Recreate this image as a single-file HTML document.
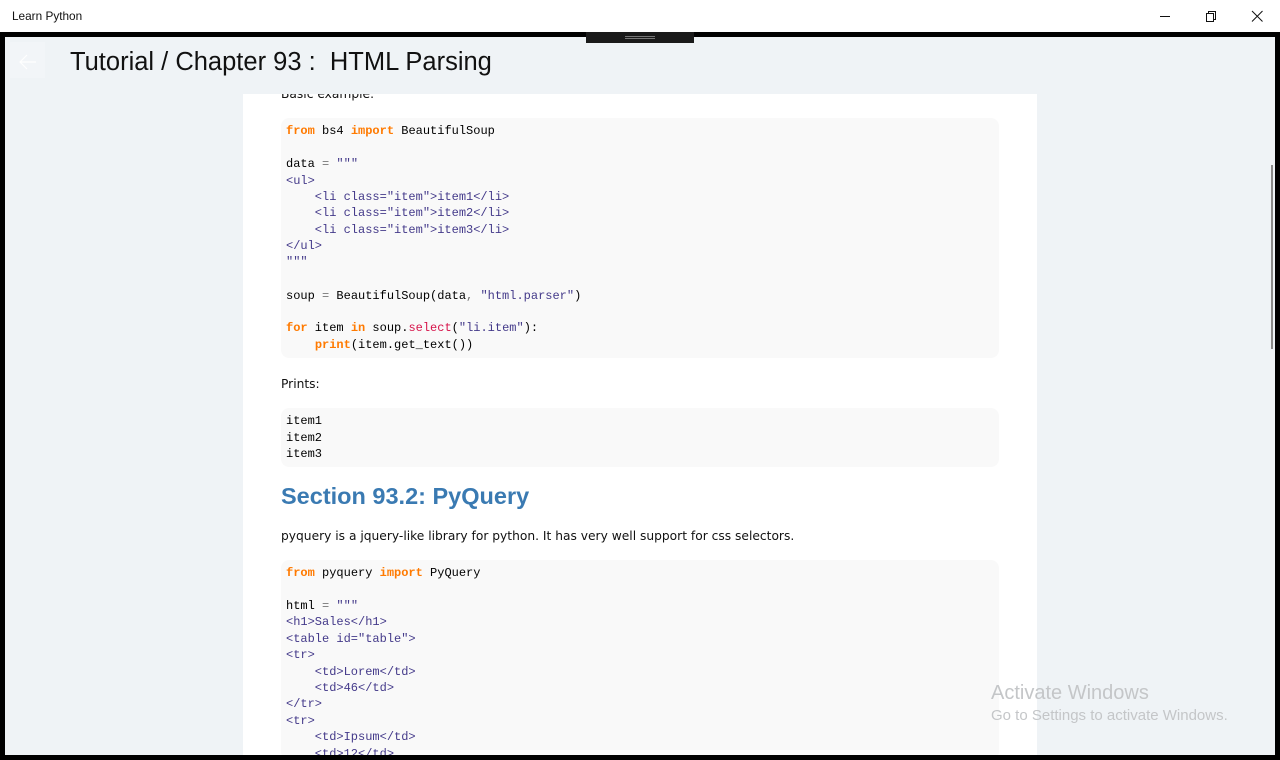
<!DOCTYPE html>
<html>
<head>
<meta charset="utf-8">
<style>
*{margin:0;padding:0;box-sizing:border-box}
html,body{width:1280px;height:760px;overflow:hidden;background:#fff;font-family:"Liberation Sans",sans-serif}
.abs{position:absolute}
#frame{left:0;top:32px;width:1280px;height:728px;background:#000}
#app{left:5px;top:37px;width:1270px;height:718px;background:#eff3f6;overflow:hidden}
#page{left:243px;top:94px;width:794px;height:661px;background:#fff}
.code{position:absolute;left:281px;width:718px;background:#f9f9f9;border-radius:8px}
.ln{position:absolute;left:286px;font:12px/16px "Liberation Mono",monospace;white-space:pre;color:#000;height:16px;margin-top:1px}
.k{color:#ff7a00;font-weight:bold}
.s{color:#443a8a}
.g{color:#777}
.r{color:#d6134a}
.t{position:absolute;left:281px;font-family:"DejaVu Sans",sans-serif;font-size:12.25px;line-height:16px;color:#111;white-space:pre}
</style>
</head>
<body>
<div class="abs" style="left:12px;top:9px;font-size:11.800px;line-height:14px;color:#111">Learn Python</div>
<svg class="abs" style="left:1150px;top:5px" width="125" height="22" fill="none" stroke="#111" stroke-width="1">
<path d="M10 11.500H20"/>
<path d="M56.500 8.500h7v8h-7z M58.500 8.500v-2h7v8h-2"/>
<path d="M102 6l10.500 10.500M112.500 6l-10.500 10.500"/>
</svg>
<div id="frame" class="abs"></div>
<div id="app" class="abs"></div>
<div class="abs" style="left:586px;top:32px;width:108px;height:11px;background:#1a1a1a"></div>
<div class="abs" style="left:625px;top:36px;width:30px;height:3px;border-top:1px solid #777;border-bottom:1px solid #777"></div>
<div class="abs" style="left:10px;top:42px;width:35px;height:36px;background:#f2f5f8"></div>
<svg class="abs" style="left:19px;top:52px" width="20" height="20" fill="none" stroke="#fff" stroke-width="1.200"><path d="M1 10H17M8 3L1 10L8 17"/></svg>
<div class="abs" style="left:70px;top:45px;font-size:25.500px;line-height:34px;color:#111;white-space:pre">Tutorial / Chapter 93 :  HTML Parsing</div>
<div id="page" class="abs"></div>
<div class="abs" style="left:281px;top:94px;width:400px;height:7px;overflow:hidden"><div style="position:absolute;left:0;top:-8px;font-family:'DejaVu Sans',sans-serif;font-size:12.250px;line-height:16px;color:#111;white-space:pre">Basic example:</div></div>

<div class="code" style="top:118px;height:240px"></div>
<div class="ln" style="top:122px"><span class="k">from</span> bs4 <span class="k">import</span> BeautifulSoup</div>
<div class="ln" style="top:155px">data <span class="g">=</span> <span class="s">"""</span></div>
<div class="ln s" style="top:172px">&lt;ul&gt;</div>
<div class="ln s" style="top:188px">    &lt;li class="item"&gt;item1&lt;/li&gt;</div>
<div class="ln s" style="top:204px">    &lt;li class="item"&gt;item2&lt;/li&gt;</div>
<div class="ln s" style="top:221px">    &lt;li class="item"&gt;item3&lt;/li&gt;</div>
<div class="ln s" style="top:237px">&lt;/ul&gt;</div>
<div class="ln s" style="top:253px">"""</div>
<div class="ln" style="top:287px">soup <span class="g">=</span> BeautifulSoup(data<span class="g">,</span> <span class="s">"html.parser"</span>)</div>
<div class="ln" style="top:319px"><span class="k">for</span> item <span class="k">in</span> soup.<span class="r">select</span>(<span class="s">"li.item"</span>):</div>
<div class="ln" style="top:336px">    <span class="k">print</span>(item.get_text())</div>

<div class="t" style="top:376px">Prints:</div>
<div class="code" style="top:408px;height:59px"></div>
<div class="ln" style="top:412px">item1</div>
<div class="ln" style="top:429px">item2</div>
<div class="ln" style="top:445px">item3</div>

<div class="abs" style="left:281px;top:481px;font-size:23.500px;line-height:30px;font-weight:bold;color:#3a7ab2;white-space:pre">Section 93.2: PyQuery</div>
<div class="t" style="top:528px">pyquery is a jquery-like library for python. It has very well support for css selectors.</div>

<div class="code" style="top:560px;height:200px"></div>
<div class="ln" style="top:564px"><span class="k">from</span> pyquery <span class="k">import</span> PyQuery</div>
<div class="ln" style="top:597px">html <span class="g">=</span> <span class="s">"""</span></div>
<div class="ln s" style="top:613px">&lt;h1&gt;Sales&lt;/h1&gt;</div>
<div class="ln s" style="top:630px">&lt;table id="table"&gt;</div>
<div class="ln s" style="top:646px">&lt;tr&gt;</div>
<div class="ln s" style="top:663px">    &lt;td&gt;Lorem&lt;/td&gt;</div>
<div class="ln s" style="top:679px">    &lt;td&gt;46&lt;/td&gt;</div>
<div class="ln s" style="top:695px">&lt;/tr&gt;</div>
<div class="ln s" style="top:712px">&lt;tr&gt;</div>
<div class="ln s" style="top:728px">    &lt;td&gt;Ipsum&lt;/td&gt;</div>
<div class="ln s" style="top:745px;height:10px;overflow:hidden">    &lt;td&gt;12&lt;/td&gt;</div>

<div class="abs" style="left:1271px;top:165px;width:2px;height:184px;background:#8a8a8a"></div>
<div class="abs" style="left:991px;top:681px;font-size:20px;line-height:24px;color:#c4c6c8;white-space:pre">Activate Windows</div>
<div class="abs" style="left:991px;top:707px;font-size:15px;line-height:18px;color:#c4c6c8;white-space:pre">Go to Settings to activate Windows.</div>
<div class="abs" style="left:0;top:755px;width:1280px;height:5px;background:#000"></div>
</body>
</html>
